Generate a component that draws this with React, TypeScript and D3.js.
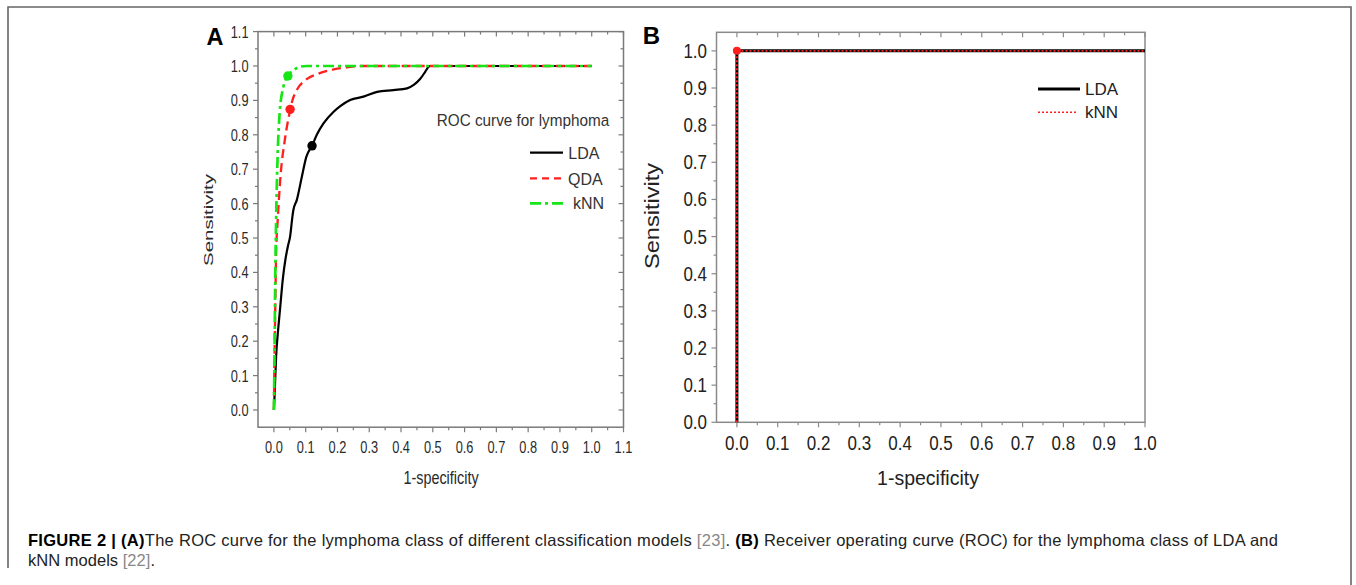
import React from "react";
import * as d3 from "d3";

// ---------- Data: panel A (ROC curves for lymphoma) ----------
const ldaFprA = [0, 0.002, 0.007, 0.014, 0.02, 0.028, 0.036, 0.045, 0.051, 0.058, 0.061, 0.072, 0.088, 0.102, 0.12, 0.135, 0.156, 0.188, 0.21, 0.24, 0.282, 0.325, 0.376, 0.419, 0.44, 0.46, 0.476, 0.486, 0.49, 0.6, 0.8, 1.0];
const ldaTprA = [0, 0.04, 0.155, 0.24, 0.3, 0.38, 0.436, 0.48, 0.504, 0.56, 0.58, 0.61, 0.678, 0.736, 0.768, 0.8, 0.833, 0.867, 0.884, 0.901, 0.911, 0.925, 0.93, 0.935, 0.945, 0.962, 0.983, 0.997, 1.0, 1.0, 1.0, 1.0];

const qdaFprA = [0, 0.001, 0.004, 0.007, 0.012, 0.02, 0.036, 0.049, 0.057, 0.072, 0.099, 0.135, 0.188, 0.23, 0.27, 0.5, 1.0];
const qdaTprA = [0, 0.087, 0.28, 0.455, 0.552, 0.669, 0.795, 0.862, 0.896, 0.93, 0.959, 0.976, 0.99, 0.996, 1.0, 1.0, 1.0];

const knnFprA = [0, 0.002, 0.004, 0.007, 0.012, 0.018, 0.03, 0.044, 0.062, 0.083, 0.104, 0.5, 1.0];
const knnTprA = [0, 0.165, 0.36, 0.552, 0.746, 0.862, 0.94, 0.971, 0.988, 0.998, 1.0, 1.0, 1.0];

// operating points (markers)
const markerNamesA = ["LDA", "QDA", "kNN"];
const markerFprA = [0.12, 0.051, 0.044];
const markerTprA = [0.768, 0.874, 0.971];

// ---------- Data: panel B ----------
const ldaFprB = [0, 0, 1.0];
const ldaTprB = [0, 1.0, 1.0];
const knnFprB = [0, 0, 1.0];
const knnTprB = [0, 1.0, 1.0];
const markerFprB = [0];
const markerTprB = [1.0];

// ---------- Tick labels ----------
const ticksA = [0, 0.1, 0.2, 0.3, 0.4, 0.5, 0.6, 0.7, 0.8, 0.9, 1.0, 1.1];
const ticksB = [0, 0.1, 0.2, 0.3, 0.4, 0.5, 0.6, 0.7, 0.8, 0.9, 1.0];

const FONT = "'Liberation Sans', Arial, Helvetica, sans-serif";
const GREEN = "#16e616";
const RED = "#ff1f1f";

type STProps = {
  x: number; y: number; fs: number; sy?: number; anchor?: "start" | "middle" | "end";
  rot?: number; weight?: string | number; fill?: string; children: React.ReactNode;
};
function ST({ x, y, fs, sy = 1, anchor = "start", rot = 0, weight = "normal", fill = "#222", children }: STProps) {
  const t = `translate(${x},${y}) scale(1,${sy})${rot ? ` rotate(${rot})` : ""}`;
  return (
    <text transform={t} fontSize={fs} textAnchor={anchor} fontWeight={weight} fill={fill} fontFamily={FONT}>
      {children}
    </text>
  );
}

function zip(xs: number[], ys: number[]): [number, number][] {
  return xs.map((x, i) => [x, ys[i]]);
}

function PanelA() {
  const x = d3.scaleLinear().domain([-0.05, 1.1]).range([258, 623.5]);
  const y = d3.scaleLinear().domain([-0.05, 1.1]).range([427.2, 31.6]);
  const line = d3.line<[number, number]>().x((d) => x(d[0])).y((d) => y(d[1])).curve(d3.curveMonotoneX);
  const [x0, x1] = x.range();
  const [y0, y1] = y.range();
  const minor = d3.range(0, 1.1001, 0.05);
  const frame = "#7a7a7a";
  const tickFs = 12.8, tickSy = 1.33;
  return (
    <g>
      {minor.map((v, i) => {
        const major = i % 2 === 0;
        const L = major ? 5 : 3;
        return (
          <g key={"t" + i} stroke={frame} strokeWidth={1.2}>
            <line x1={x(v)} x2={x(v)} y1={y0} y2={y0 + L} />
            <line x1={x(v)} x2={x(v)} y1={y1} y2={y1 + L} />
            <line x1={x0} x2={x0 - L} y1={y(v)} y2={y(v)} />
            <line x1={x1} x2={x1 - L} y1={y(v)} y2={y(v)} />
          </g>
        );
      })}
      <rect x={x0} y={y1} width={x1 - x0} height={y0 - y1} fill="none" stroke={frame} strokeWidth={1.5} />
      {ticksA.map((v) => (
        <ST key={"xl" + v} x={x(v)} y={453} fs={tickFs} sy={tickSy} anchor="middle" fill="#2a2a2a">{v.toFixed(1)}</ST>
      ))}
      {ticksA.map((v) => (
        <ST key={"yl" + v} x={248.5} y={y(v) + 0.358 * tickFs * tickSy} fs={tickFs} sy={tickSy} anchor="end" fill="#2a2a2a">{v.toFixed(1)}</ST>
      ))}
      <ST x={441} y={484} fs={14.4} sy={1.29} anchor="middle" fill="#2a2a2a">1-specificity</ST>
      <ST x={212.6} y={220} fs={13.6} sy={1.5} anchor="middle" rot={-90} fill="#2a2a2a">Sensitivity</ST>
      <ST x={206.5} y={45} fs={23.5} weight="bold" fill="#000">A</ST>

      {/* curves */}
      <path d={line(zip(ldaFprA, ldaTprA)) || ""} fill="none" stroke="#000" strokeWidth={2.2} />
      <path d={line(zip(qdaFprA, qdaTprA)) || ""} fill="none" stroke={RED} strokeWidth={2.3} strokeDasharray="9,5" />
      <path d={line(zip(knnFprA, knnTprA)) || ""} fill="none" stroke={GREEN} strokeWidth={2.7} strokeDasharray="11,4,3,4" />
      {markerNamesA.map((n, i) => (
        <circle key={n} cx={x(markerFprA[i])} cy={y(markerTprA[i])} r={4.7} fill={n === "LDA" ? "#000" : n === "QDA" ? RED : GREEN} />
      ))}

      {/* legend */}
      <ST x={436.7} y={126} fs={15.3} sy={1.1} fill="#333">ROC curve for lymphoma</ST>
      <line x1={530} x2={563} y1={152.7} y2={152.7} stroke="#000" strokeWidth={2.2} />
      <ST x={568.3} y={159.3} fs={16} fill="#333">LDA</ST>
      <line x1={530} x2={561} y1={178.3} y2={178.3} stroke={RED} strokeWidth={2.3} strokeDasharray="7,5" />
      <ST x={568} y={185} fs={16} fill="#333">QDA</ST>
      <line x1={530} x2={565} y1={203.3} y2={203.3} stroke={GREEN} strokeWidth={2.7} strokeDasharray="11,4,3,4" />
      <ST x={573} y={209.3} fs={16} fill="#333">kNN</ST>
    </g>
  );
}

function PanelB() {
  const x = d3.scaleLinear().domain([-0.05, 1.0]).range([716.5, 1145]);
  const y = d3.scaleLinear().domain([0, 1.05]).range([422.3, 32.3]);
  const line = d3.line<[number, number]>().x((d) => x(d[0])).y((d) => y(d[1]));
  const [x0, x1] = x.range();
  const [y0, y1] = y.range();
  const minorX = d3.range(0, 1.0001, 0.05);
  const minorY = d3.range(0, 1.0001, 0.05);
  const frame = "#8a8a8a";
  const tickFs = 17, tickSy = 1.15;
  return (
    <g>
      {minorX.map((v, i) => {
        const L = i % 2 === 0 ? 5 : 3;
        return (
          <g key={"tx" + i} stroke={frame} strokeWidth={1.2}>
            <line x1={x(v)} x2={x(v)} y1={y0} y2={y0 + L} />
            <line x1={x(v)} x2={x(v)} y1={y1} y2={y1 + L} />
          </g>
        );
      })}
      {minorY.map((v, i) => {
        const L = i % 2 === 0 ? 5 : 3;
        return (
          <g key={"ty" + i} stroke={frame} strokeWidth={1.2}>
            <line x1={x0} x2={x0 - L} y1={y(v)} y2={y(v)} />
          </g>
        );
      })}
      <rect x={x0} y={y1} width={x1 - x0} height={y0 - y1} fill="none" stroke={frame} strokeWidth={1.5} />
      {ticksB.map((v) => (
        <ST key={"xl" + v} x={x(v)} y={450} fs={tickFs} sy={tickSy} anchor="middle">{v.toFixed(1)}</ST>
      ))}
      {ticksB.map((v) => (
        <ST key={"yl" + v} x={707} y={y(v) + 0.358 * tickFs * tickSy} fs={tickFs} sy={tickSy} anchor="end">{v.toFixed(1)}</ST>
      ))}
      <ST x={928} y={485} fs={19.5} sy={1.03} anchor="middle">1-specificity</ST>
      <ST x={659} y={216} fs={19.8} sy={1.19} anchor="middle" rot={-90}>Sensitivity</ST>
      <ST x={642.7} y={44} fs={24} weight="bold" fill="#000">B</ST>

      <path d={line(zip(ldaFprB, ldaTprB)) || ""} fill="none" stroke="#000" strokeWidth={3} />
      <path d={line(zip(knnFprB, knnTprB)) || ""} fill="none" stroke={RED} strokeWidth={1.8} strokeDasharray="2,2" />
      {markerFprB.map((v, i) => (
        <circle key={i} cx={x(v)} cy={y(markerTprB[i])} r={4} fill={RED} />
      ))}

      <line x1={1038} x2={1080} y1={89} y2={89} stroke="#000" strokeWidth={3} />
      <ST x={1085} y={95} fs={17}>LDA</ST>
      <line x1={1038} x2={1078} y1={112.3} y2={112.3} stroke={RED} strokeWidth={1.6} strokeDasharray="2,2" />
      <ST x={1085} y={118.3} fs={17}>kNN</ST>
    </g>
  );
}

function Caption() {
  return (
    <g fontFamily={FONT} fontSize={16.5} fill="#222">
      <text x={28} y={546} textLength={1250} lengthAdjust="spacing">
        <tspan fontWeight="bold" fill="#000">FIGURE 2 | (A)</tspan>
        <tspan>The ROC curve for the lymphoma class of different classification models </tspan>
        <tspan fill="#888">[23]</tspan>
        <tspan>. </tspan>
        <tspan fontWeight="bold" fill="#000">(B)</tspan>
        <tspan> Receiver operating curve (ROC) for the lymphoma class of LDA and</tspan>
      </text>
      <text x={28} y={566} textLength={127} lengthAdjust="spacing">
        <tspan>kNN models </tspan>
        <tspan fill="#888">[22]</tspan>
        <tspan>.</tspan>
      </text>
    </g>
  );
}

export default function App() {
  return (
    <svg width={1356} height={585} style={{ position: "absolute", left: 0, top: 0, background: "#fff" }}>
      <rect width={1356} height={585} fill="#fff" />
      <path d="M8,568 V7 H1351 V585" fill="none" stroke="#666" strokeWidth={1.6} />
      <PanelA />
      <PanelB />
      <Caption />
    </svg>
  );
}
